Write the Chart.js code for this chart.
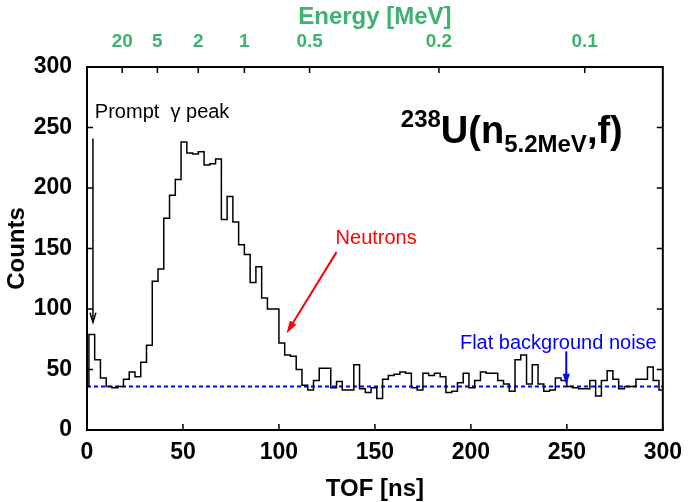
<!DOCTYPE html>
<html>
<head>
<meta charset="utf-8">
<script src="https://cdn.jsdelivr.net/npm/chart.js@4.4.1/dist/chart.umd.min.js"></script>
<style>
    body { margin: 0; background: #fff; }
    #wrap { width: 691px; height: 502px; position: relative; }
</style>
</head>
<body>
<div id="wrap"><canvas id="grafico"></canvas></div>
<script>
// histogram: 3 ns bins, first (hidden) bin starts at -2 ns
const binStart = -2;
const binWidth = 3;
const counts = [
    36,
    79, 58, 43, 36, 35, 36, 42, 48, 44, 56,
    70, 123, 133, 175, 194, 207, 238, 229, 228, 230,
    219, 220, 224, 174, 193, 172, 153, 145, 122, 135,
    109, 100, 100, 72, 62, 61, 50, 37, 33, 41,
    51, 51, 35, 40, 33, 33, 54, 34, 31, 35,
    26, 42, 45, 46, 48, 47, 35, 33, 47, 45,
    47, 44, 31, 32, 39, 47, 35, 41, 48, 47,
    47, 41, 38, 32, 58, 62, 38, 54, 38, 32,
    33, 43, 41, 36, 35, 34, 34, 41, 28, 41,
    49, 42, 34, 36, 36, 42, 42, 52, 41, 33
];
const backgroundLevel = 36;

const tofTicks = [0, 50, 100, 150, 200, 250, 300];
const countTicks = [0, 50, 100, 150, 200, 250, 300];
const energyTicks = [20, 5, 2, 1, 0.5, 0.2, 0.1]; // MeV
const tofAt1MeV = 82; // ns, flight time of a 1 MeV neutron

function tofForEnergy(e) {
    return tofAt1MeV / Math.sqrt(e);
}

const histPoints = counts.map(function (c, i) {
    return { x: binStart + i * binWidth, y: c };
});
histPoints.push({ x: binStart + counts.length * binWidth, y: counts[counts.length - 1] });

const fonte = "'Liberation Sans', Arial, sans-serif";
const verde = '#3cb371';
Chart.defaults.font.family = fonte;

function drawArrow(ctx, x1, y1, x2, y2, cor, cheio, tam, larg) {
    const ang = Math.atan2(y2 - y1, x2 - x1);
    ctx.save();
    ctx.strokeStyle = cor;
    ctx.fillStyle = cor;
    ctx.lineWidth = larg;
    ctx.beginPath();
    ctx.moveTo(x1, y1);
    ctx.lineTo(x2 - Math.cos(ang) * (cheio ? tam * 0.8 : 0), y2 - Math.sin(ang) * (cheio ? tam * 0.8 : 0));
    ctx.stroke();
    const a1 = ang + Math.PI - 0.3;
    const a2 = ang + Math.PI + 0.3;
    ctx.beginPath();
    ctx.moveTo(x2 + Math.cos(a1) * tam, y2 + Math.sin(a1) * tam);
    ctx.lineTo(x2, y2);
    ctx.lineTo(x2 + Math.cos(a2) * tam, y2 + Math.sin(a2) * tam);
    if (cheio) {
        ctx.closePath();
        ctx.fill();
    } else {
        ctx.stroke();
    }
    ctx.restore();
}

const framePlugin = {
    id: 'frame',
    afterDraw(chart) {
        const ctx = chart.ctx;
        const a = chart.chartArea;
        const sx = chart.scales.x;
        const sy = chart.scales.y;
        const st = chart.scales.xTop;
        const tk = 6;
        ctx.save();
        ctx.strokeStyle = '#000';
        ctx.lineWidth = 1.5;
        ctx.beginPath();
        countTicks.forEach(function (v) {
            const y = sy.getPixelForValue(v);
            ctx.moveTo(a.left, y); ctx.lineTo(a.left + tk, y);
            ctx.moveTo(a.right, y); ctx.lineTo(a.right - tk, y);
        });
        tofTicks.forEach(function (v) {
            const x = sx.getPixelForValue(v);
            ctx.moveTo(x, a.bottom); ctx.lineTo(x, a.bottom - tk);
        });
        energyTicks.forEach(function (e) {
            const x = st.getPixelForValue(tofForEnergy(e));
            ctx.moveTo(x, a.top); ctx.lineTo(x, a.top + tk);
        });
        ctx.stroke();
        ctx.lineWidth = 2;
        ctx.strokeRect(a.left, a.top, a.right - a.left, a.bottom - a.top);

        // annotations
        const px = function (t) { return sx.getPixelForValue(t); };
        const py = function (c) { return sy.getPixelForValue(c); };

        ctx.textBaseline = 'alphabetic';
        ctx.textAlign = 'left';
        ctx.font = '20px ' + fonte;
        ctx.fillStyle = '#000';
        ctx.fillText('Prompt  γ peak', px(4.1), py(258));
        drawArrow(ctx, px(3.1), py(241), px(3.1), py(89), '#000', false, 10, 1.5);

        ctx.fillStyle = '#ff0000';
        ctx.fillText('Neutrons', px(129.5), py(154));
        drawArrow(ctx, px(130), py(147), px(104), py(80), '#ff0000', true, 13, 2);

        ctx.fillStyle = '#0000ff';
        ctx.fillText('Flat background noise', px(194.3), py(67));
        drawArrow(ctx, px(249.7), py(65), px(249.7), py(37), '#0000ff', true, 12, 2);

        // reaction label 238U(n5.2MeV,f)
        ctx.fillStyle = '#000';
        let x = px(163.5);
        const base = py(237);
        ctx.font = 'bold 24px ' + fonte;
        ctx.fillText('238', x, base - 16);
        x += ctx.measureText('238').width;
        ctx.font = 'bold 38px ' + fonte;
        ctx.fillText('U(n', x, base);
        x += ctx.measureText('U(n').width;
        ctx.font = 'bold 24px ' + fonte;
        ctx.fillText('5.2MeV', x, base + 9);
        x += ctx.measureText('5.2MeV').width;
        ctx.font = 'bold 38px ' + fonte;
        ctx.fillText(',f)', x, base);
        ctx.restore();
    }
};

new Chart(document.getElementById('grafico'), {
    type: 'line',
    data: {
        datasets: [
            {
                data: histPoints,
                stepped: 'before',
                borderColor: '#000',
                borderWidth: 1.5,
                pointRadius: 0,
                fill: false,
                xAxisID: 'x',
                yAxisID: 'y'
            },
            {
                data: [{ x: 0, y: backgroundLevel }, { x: 300, y: backgroundLevel }],
                borderColor: '#0000ff',
                borderWidth: 2,
                borderDash: [4, 3],
                pointRadius: 0,
                fill: false,
                xAxisID: 'x',
                yAxisID: 'y'
            }
        ]
    },
    options: {
        responsive: true,
        maintainAspectRatio: false,
        animation: false,
        layout: { padding: { right: 25 } },
        plugins: {
            legend: { display: false },
            tooltip: { enabled: false }
        },
        scales: {
            x: {
                type: 'linear',
                position: 'bottom',
                min: 0,
                max: 300,
                afterBuildTicks: function (s) {
                    s.ticks = tofTicks.map(function (v) { return { value: v }; });
                },
                ticks: {
                    autoSkip: false,
                    maxRotation: 0,
                    padding: 9,
                    color: '#000',
                    font: { size: 23, weight: 'bold' }
                },
                grid: { display: false, drawTicks: false },
                border: { display: false },
                title: {
                    display: true,
                    text: 'TOF [ns]',
                    color: '#000',
                    font: { size: 24, weight: 'bold' },
                    padding: { top: 0, bottom: -2 }
                },
                afterFit: function (s) { s.height = 72; }
            },
            xTop: {
                type: 'linear',
                position: 'top',
                min: 0,
                max: 300,
                afterBuildTicks: function (s) {
                    s.ticks = energyTicks.map(function (e) { return { value: tofForEnergy(e) }; });
                },
                ticks: {
                    autoSkip: false,
                    maxRotation: 0,
                    padding: 14,
                    color: verde,
                    font: { size: 19, weight: 'bold' },
                    callback: function (v, i) { return String(energyTicks[i]); }
                },
                grid: { display: false, drawTicks: false },
                border: { display: false },
                title: {
                    display: true,
                    text: 'Energy [MeV]',
                    color: verde,
                    font: { size: 24, weight: 'bold' },
                    padding: { top: 3, bottom: 0 }
                },
                afterFit: function (s) { s.height = 67; }
            },
            y: {
                type: 'linear',
                min: 0,
                max: 300,
                afterBuildTicks: function (s) {
                    s.ticks = countTicks.map(function (v) { return { value: v }; });
                },
                ticks: {
                    padding: 15,
                    color: '#000',
                    font: { size: 23, weight: 'bold' }
                },
                grid: { display: false, drawTicks: false },
                border: { display: false },
                title: {
                    display: true,
                    text: 'Counts',
                    color: '#000',
                    font: { size: 24, weight: 'bold' },
                    padding: { top: 3, bottom: 0 }
                },
                afterFit: function (s) { s.width = 87; }
            }
        }
    },
    plugins: [framePlugin]
});
</script>
</body>
</html>
